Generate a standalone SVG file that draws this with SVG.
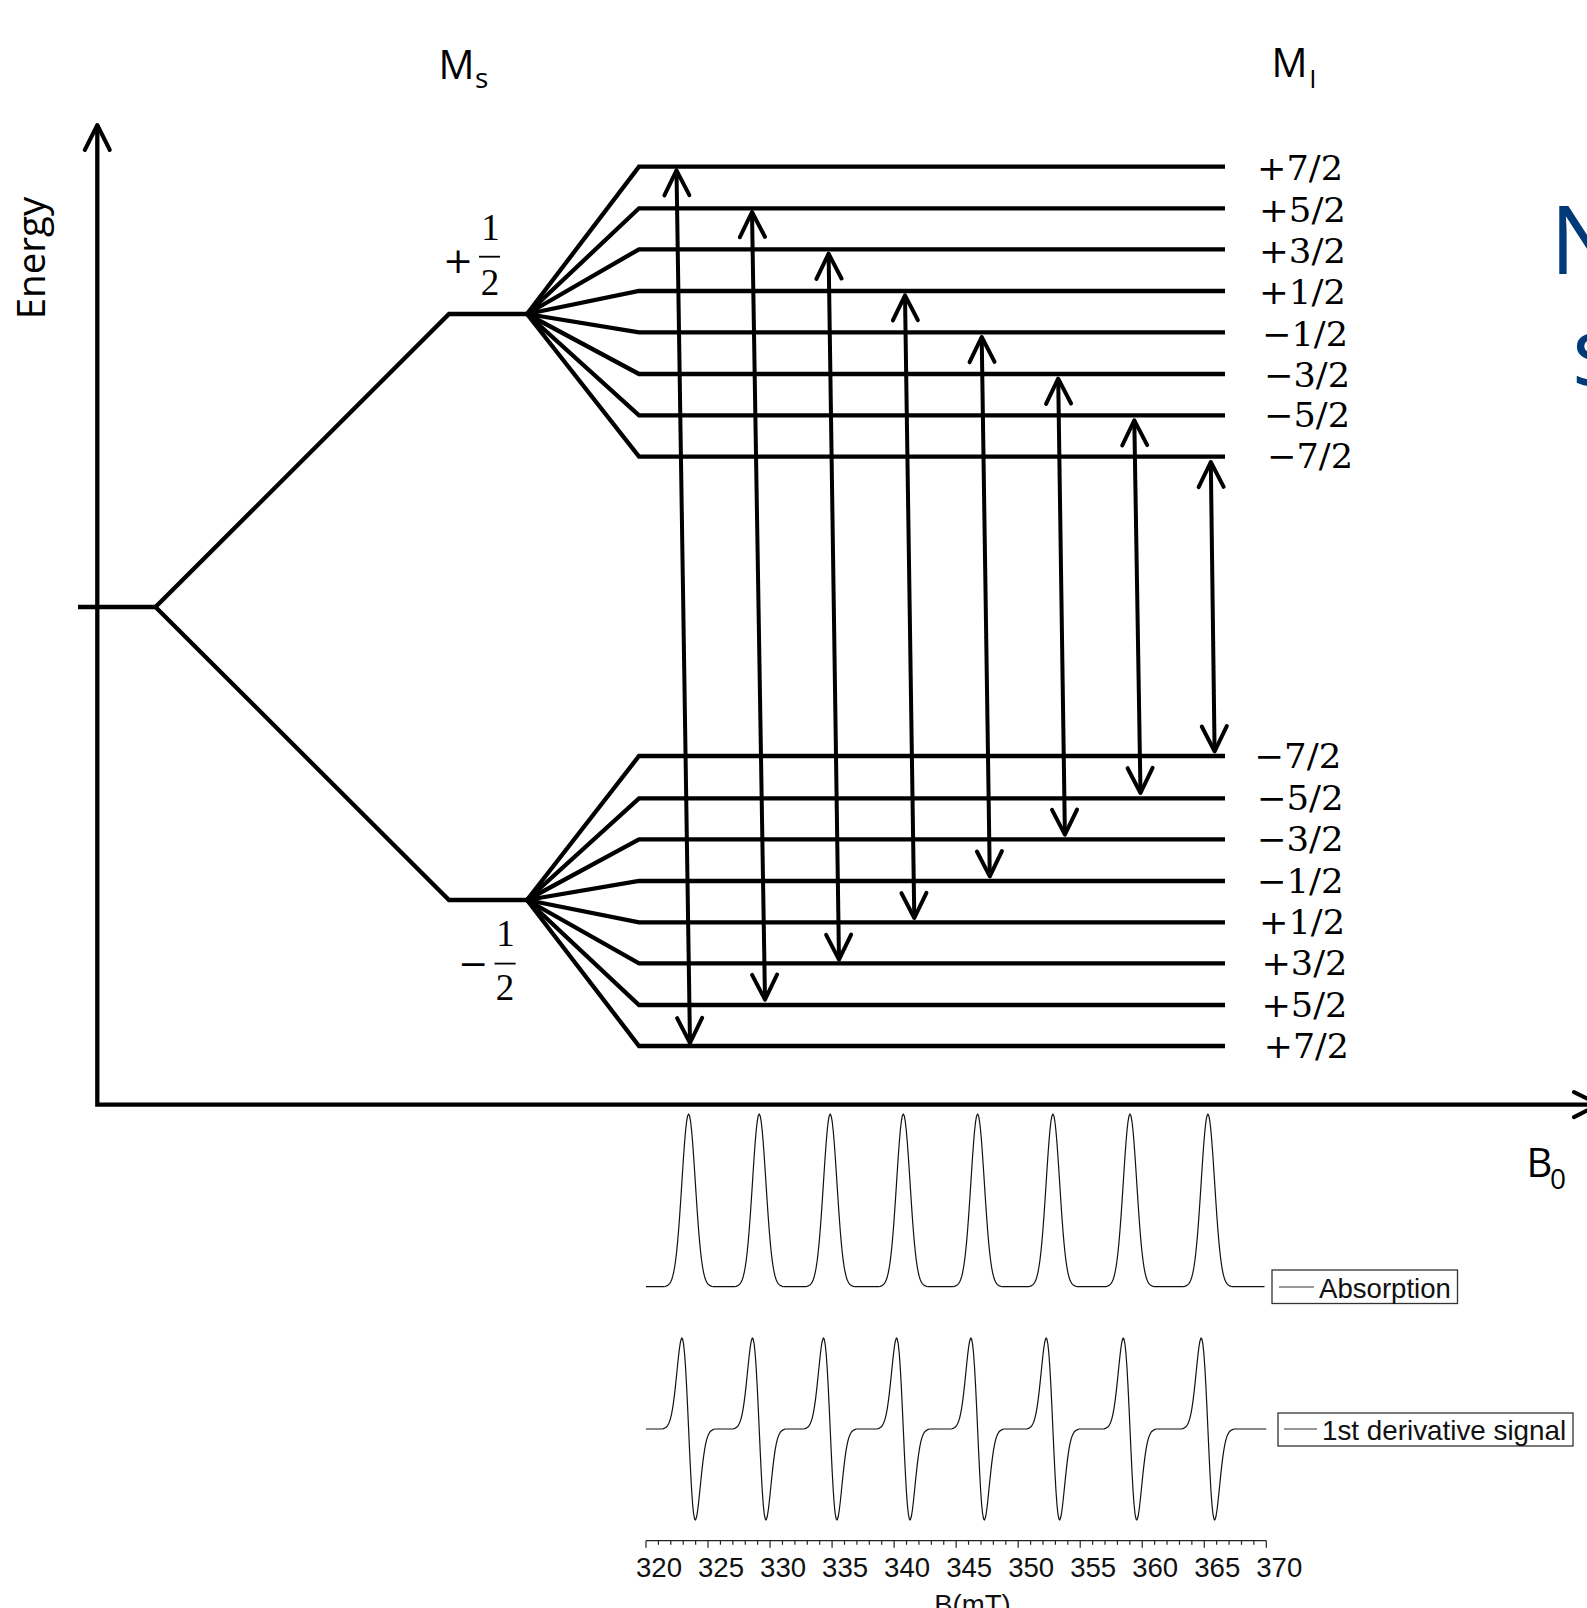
<svg xmlns="http://www.w3.org/2000/svg" xmlns:xlink="http://www.w3.org/1999/xlink" width="1587" height="1608" viewBox="0 0 1587 1608">
<style>
.ln{fill:none;stroke:#000;stroke-width:4.3;stroke-linejoin:miter;stroke-miterlimit:6}
.arr{fill:none;stroke:#000;stroke-width:4;marker-start:url(#ah);marker-end:url(#ah)}
.sans{font-family:"Open Sans","Noto Sans",sans-serif;fill:#000}
.math{font-family:"Liberation Serif","Times New Roman",serif;font-size:37px;fill:#000}
.sign{font-family:"DejaVu Serif",serif;font-size:36px;fill:#000}
.mi{font-family:"DejaVu Serif",serif;font-size:34px;fill:#000}
.plot{font-family:"Liberation Sans",Arial,sans-serif;font-size:27.6px;fill:#111}
.sp{fill:none;stroke:#111;stroke-width:1.2;stroke-linejoin:round}
.title{font-family:"Open Sans","Noto Sans",sans-serif;font-size:95px;fill:#003A78}
</style>
<defs>
<marker id="ah" markerUnits="userSpaceOnUse" orient="auto-start-reverse" refX="0" refY="0" markerWidth="60" markerHeight="60" viewBox="-40 -30 60 60" overflow="visible">
<path d="M-25,-12.5 L0,0 L-25,12.5" fill="none" stroke="#000" stroke-width="4" stroke-linecap="round" stroke-linejoin="round"/>
</marker>
<path id="pk" d="M-24,0 L-22,-0.79 -20,-2.01 -19,-3.1 -18,-4.68 -17,-6.91 -16,-9.98 -15,-14.09 -14,-19.46 -13,-26.29 -12,-34.73 -11,-44.87 -10,-56.7 -9,-70.06 -8,-84.66 -7,-100.06 -6,-115.66 -5,-130.73 -4,-144.51 -3,-156.23 -2,-165.18 -1,-170.79 0,-172.7 1,-170.79 2,-165.18 3,-156.23 4,-144.51 5,-130.73 6,-115.66 7,-100.06 8,-84.66 9,-70.06 10,-56.7 11,-44.87 12,-34.73 13,-26.29 14,-19.46 15,-14.09 16,-9.98 17,-6.91 18,-4.68 19,-3.1 20,-2.01 22,-0.79 24,0"/>
<path id="dv" d="M-26,0 L-24,-0.88 -23,-1.42 -22,-2.25 -21,-3.46 -20,-5.2 -19,-7.63 -18,-10.92 -17,-15.23 -16,-20.7 -15,-27.4 -14,-35.33 -13,-44.32 -12,-54.04 -11,-63.99 -10,-73.51 -9,-81.75 -8,-87.81 -7,-90.8 -6.7,-91 -6,-89.97 -5,-84.74 -4,-74.94 -3,-60.76 -2,-42.83 -1,-22.14 0,0 1,22.14 2,42.83 3,60.76 4,74.94 5,84.74 6,89.97 6.7,91 7,90.8 8,87.81 9,81.75 10,73.51 11,63.99 12,54.04 13,44.32 14,35.33 15,27.4 16,20.7 17,15.23 18,10.92 19,7.63 20,5.2 21,3.46 22,2.25 23,1.42 24,0.88 26,0"/>
</defs>

<g id="axes">
<path class="ln" d="M97.3,125 V1104.6 H1599" style="marker-start:url(#ah);marker-end:url(#ah)"/>
<text class="sans" font-size="38.5" text-anchor="middle" transform="translate(44.6,258) rotate(-90)">Energy</text>
<text class="sans" font-size="40" x="1526.4" y="1177">B</text>
<text class="sans" font-size="28" x="1550" y="1189">0</text>
</g>

<g id="headers">
<text class="sans" font-size="40" x="438.4" y="79">M</text>
<text class="sans" font-size="28" x="475" y="88">s</text>
<text class="sans" font-size="40" x="1271.4" y="77">M</text>
<text class="sans" font-size="26" x="1309.3" y="87.7">I</text>
</g>

<g id="title-fragment">
<text class="title" x="1550" y="274.3">N</text>
<text class="title" x="1572" y="385">s</text>
</g>

<g id="level-unsplit">
<path class="ln" d="M78,607 H155.5"/>
</g>

<g id="level-ms-plus">
<path class="ln" d="M155.5,607 L449,314 H527"/>
<text class="sign" x="458" y="272.5" text-anchor="middle">+</text>
<text class="math" x="490.5" y="240" text-anchor="middle">1</text>
<line x1="479" y1="256.7" x2="500" y2="256.7" stroke="#000" stroke-width="1.8"/>
<text class="math" x="490" y="295" text-anchor="middle">2</text>
</g>

<g id="level-ms-minus">
<path class="ln" d="M155.5,607 L449,900 H527"/>
<text class="sign" x="473" y="975.5" text-anchor="middle">−</text>
<text class="math" x="505.5" y="946" text-anchor="middle">1</text>
<line x1="494.6" y1="963.6" x2="515.6" y2="963.6" stroke="#000" stroke-width="1.8"/>
<text class="math" x="505" y="1000" text-anchor="middle">2</text>
</g>

<g id="upper-levels">
<path class="ln" d="M527,314 L639,166.7 H1225"/>
<path class="ln" d="M527,314 L639,208.3 H1225"/>
<path class="ln" d="M527,314 L639,249.3 H1225"/>
<path class="ln" d="M527,314 L639,291 H1225"/>
<path class="ln" d="M527,314 L639,332.3 H1225"/>
<path class="ln" d="M527,314 L639,374 H1225"/>
<path class="ln" d="M527,314 L639,415.3 H1225"/>
<path class="ln" d="M527,314 L639,456.7 H1225"/>
<text class="mi" x="1257" y="180" textLength="86" lengthAdjust="spacingAndGlyphs">+7/2</text>
<text class="mi" x="1259" y="221.5" textLength="87" lengthAdjust="spacingAndGlyphs">+5/2</text>
<text class="mi" x="1259" y="262.5" textLength="87" lengthAdjust="spacingAndGlyphs">+3/2</text>
<text class="mi" x="1259" y="304" textLength="87" lengthAdjust="spacingAndGlyphs">+1/2</text>
<text class="mi" x="1262" y="345.5" textLength="86" lengthAdjust="spacingAndGlyphs">−1/2</text>
<text class="mi" x="1264" y="386.5" textLength="86" lengthAdjust="spacingAndGlyphs">−3/2</text>
<text class="mi" x="1264" y="427" textLength="86" lengthAdjust="spacingAndGlyphs">−5/2</text>
<text class="mi" x="1267" y="467.5" textLength="86" lengthAdjust="spacingAndGlyphs">−7/2</text>
</g>

<g id="lower-levels">
<path class="ln" d="M527,900 L639,756 H1225"/>
<path class="ln" d="M527,900 L639,798.3 H1225"/>
<path class="ln" d="M527,900 L639,839.3 H1225"/>
<path class="ln" d="M527,900 L639,881 H1225"/>
<path class="ln" d="M527,900 L639,922.3 H1225"/>
<path class="ln" d="M527,900 L639,963.3 H1225"/>
<path class="ln" d="M527,900 L639,1005 H1225"/>
<path class="ln" d="M527,900 L639,1046 H1225"/>
<text class="mi" x="1254.3" y="768" textLength="87" lengthAdjust="spacingAndGlyphs">−7/2</text>
<text class="mi" x="1256.7" y="810" textLength="87" lengthAdjust="spacingAndGlyphs">−5/2</text>
<text class="mi" x="1256.7" y="851" textLength="87" lengthAdjust="spacingAndGlyphs">−3/2</text>
<text class="mi" x="1256.7" y="893" textLength="87" lengthAdjust="spacingAndGlyphs">−1/2</text>
<text class="mi" x="1259" y="934" textLength="86" lengthAdjust="spacingAndGlyphs">+1/2</text>
<text class="mi" x="1261.4" y="975" textLength="86" lengthAdjust="spacingAndGlyphs">+3/2</text>
<text class="mi" x="1261.4" y="1017" textLength="86" lengthAdjust="spacingAndGlyphs">+5/2</text>
<text class="mi" x="1263.8" y="1058" textLength="85" lengthAdjust="spacingAndGlyphs">+7/2</text>
</g>

<g id="transitions">
<line class="arr" x1="676.5" y1="170.3" x2="690" y2="1043"/>
<line class="arr" x1="752" y1="212" x2="765" y2="999.7"/>
<line class="arr" x1="828.6" y1="253.7" x2="839" y2="959.7"/>
<line class="arr" x1="905" y1="295.3" x2="914.3" y2="918"/>
<line class="arr" x1="981.7" y1="337" x2="989.8" y2="876.3"/>
<line class="arr" x1="1058.2" y1="378.7" x2="1064.9" y2="834.7"/>
<line class="arr" x1="1134.3" y1="420.3" x2="1140.5" y2="793"/>
<line class="arr" x1="1210.8" y1="462" x2="1214.6" y2="751.3"/>
</g>

<g id="absorption">
<path class="sp" d="M646,1286.7 H664.6 M712.6,1286.7 H735.2 M783.2,1286.7 H806.2 M854.2,1286.7 H879.3 M927.3,1286.7 H953.6 M1001.6,1286.7 H1028.9 M1076.9,1286.7 H1106 M1154,1286.7 H1183.9 M1231.9,1286.7 H1264.5"/>
<use xlink:href="#pk" href="#pk" class="sp" x="688.6" y="1286.7"/>
<use xlink:href="#pk" href="#pk" class="sp" x="759.2" y="1286.7"/>
<use xlink:href="#pk" href="#pk" class="sp" x="830.2" y="1286.7"/>
<use xlink:href="#pk" href="#pk" class="sp" x="903.3" y="1286.7"/>
<use xlink:href="#pk" href="#pk" class="sp" x="977.6" y="1286.7"/>
<use xlink:href="#pk" href="#pk" class="sp" x="1052.9" y="1286.7"/>
<use xlink:href="#pk" href="#pk" class="sp" x="1130" y="1286.7"/>
<use xlink:href="#pk" href="#pk" class="sp" x="1207.9" y="1286.7"/>
</g>

<g id="legend-absorption">
<rect x="1272" y="1270" width="185.5" height="33.5" fill="#fff" stroke="#333" stroke-width="1.3"/>
<line x1="1279" y1="1287" x2="1314" y2="1287" stroke="#333" stroke-width="1.2"/>
<text class="plot" x="1319" y="1297.7">Absorption</text>
</g>

<g id="derivative">
<path class="sp" d="M646,1429 H662.6 M714.6,1429 H733.2 M785.2,1429 H804.2 M856.2,1429 H877.3 M929.3,1429 H951.6 M1003.6,1429 H1026.9 M1078.9,1429 H1104 M1156,1429 H1181.9 M1233.9,1429 H1266.3"/>
<use xlink:href="#dv" href="#dv" class="sp" x="688.6" y="1429"/>
<use xlink:href="#dv" href="#dv" class="sp" x="759.2" y="1429"/>
<use xlink:href="#dv" href="#dv" class="sp" x="830.2" y="1429"/>
<use xlink:href="#dv" href="#dv" class="sp" x="903.3" y="1429"/>
<use xlink:href="#dv" href="#dv" class="sp" x="977.6" y="1429"/>
<use xlink:href="#dv" href="#dv" class="sp" x="1052.9" y="1429"/>
<use xlink:href="#dv" href="#dv" class="sp" x="1130" y="1429"/>
<use xlink:href="#dv" href="#dv" class="sp" x="1207.9" y="1429"/>
</g>

<g id="legend-derivative">
<rect x="1278" y="1413" width="295" height="33" fill="#fff" stroke="#333" stroke-width="1.3"/>
<line x1="1284" y1="1429" x2="1317" y2="1429" stroke="#333" stroke-width="1.2"/>
<text class="plot" x="1322" y="1440" style="font-size:27.8px">1st derivative signal</text>
</g>

<g id="field-axis">
<path fill="none" stroke="#222" stroke-width="1.3" d="M646,1540.7 H1266.3"/>
<path fill="none" stroke="#222" stroke-width="1.2" d="M646,1540.7v7 M708.03,1540.7v7 M770.06,1540.7v7 M832.09,1540.7v7 M894.12,1540.7v7 M956.15,1540.7v7 M1018.18,1540.7v7 M1080.21,1540.7v7 M1142.24,1540.7v7 M1204.27,1540.7v7 M1266.3,1540.7v7 M658.41,1540.7v4 M670.81,1540.7v4 M683.22,1540.7v4 M695.62,1540.7v4 M720.44,1540.7v4 M732.84,1540.7v4 M745.25,1540.7v4 M757.65,1540.7v4 M782.47,1540.7v4 M794.87,1540.7v4 M807.28,1540.7v4 M819.68,1540.7v4 M844.5,1540.7v4 M856.9,1540.7v4 M869.31,1540.7v4 M881.71,1540.7v4 M906.53,1540.7v4 M918.93,1540.7v4 M931.34,1540.7v4 M943.74,1540.7v4 M968.56,1540.7v4 M980.96,1540.7v4 M993.37,1540.7v4 M1005.77,1540.7v4 M1030.59,1540.7v4 M1042.99,1540.7v4 M1055.4,1540.7v4 M1067.8,1540.7v4 M1092.62,1540.7v4 M1105.02,1540.7v4 M1117.43,1540.7v4 M1129.83,1540.7v4 M1154.65,1540.7v4 M1167.05,1540.7v4 M1179.46,1540.7v4 M1191.86,1540.7v4 M1216.68,1540.7v4 M1229.08,1540.7v4 M1241.49,1540.7v4 M1253.89,1540.7v4"/>
<g class="plot" text-anchor="middle">
<text x="659" y="1577">320</text>
<text x="721" y="1577">325</text>
<text x="783.1" y="1577">330</text>
<text x="845.1" y="1577">335</text>
<text x="907.1" y="1577">340</text>
<text x="969.2" y="1577">345</text>
<text x="1031.2" y="1577">350</text>
<text x="1093.2" y="1577">355</text>
<text x="1155.2" y="1577">360</text>
<text x="1217.3" y="1577">365</text>
<text x="1279.3" y="1577">370</text>
<text x="972.5" y="1613.7">B(mT)</text>
</g>
</g>
</svg>
